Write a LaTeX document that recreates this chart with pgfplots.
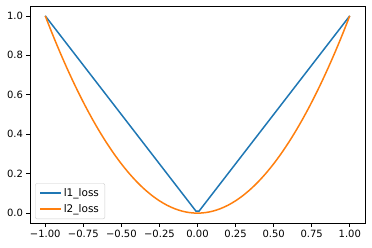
\documentclass[border=0pt]{standalone}
\usepackage{fontspec}
\setmainfont{DejaVu Sans}
\usepackage{pgfplots}
\pgfplotsset{compat=1.18}
\definecolor{c0}{HTML}{1F77B4}
\definecolor{c1}{HTML}{FF7F0E}
\begin{document}
\fontsize{10bp}{12bp}\selectfont
\begin{tikzpicture}
\begin{axis}[
  scale only axis, width=335bp, height=217bp,
  xmin=-1.1, xmax=1.1, ymin=-0.05, ymax=1.05,
  xtick={-1,-0.75,-0.5,-0.25,0,0.25,0.5,0.75,1},
  xticklabels={−1.00,−0.75,−0.50,−0.25,0.00,0.25,0.50,0.75,1.00},
  ytick={0,0.2,0.4,0.6,0.8,1},
  yticklabels={0.0,0.2,0.4,0.6,0.8,1.0},
  tick align=outside, tick pos=left,
  major tick length=3.5bp,
  every tick/.style={black, line width=0.6bp},
  axis line style={line width=0.6bp},
  ticklabel style={font=\fontsize{10bp}{12bp}\selectfont},
  legend style={at={(axis description cs:0.015,0.018)}, anchor=south west,
    draw=black!20, rounded corners=2bp, font=\fontsize{10.5bp}{12bp}\selectfont,
    row sep=2.5bp, inner xsep=4bp, inner ysep=3bp},
  legend cell align=left,
  legend image code/.code={\draw[#1, sharp plot, line width=1.6bp] (0bp,0bp) -- (21bp,0bp);},
]
\addplot[c0, line width=1.5bp] coordinates {(-1,1) (-0.0101,0.0101) (0.0101,0.0101) (1,1)};
\addlegendentry{l1\_loss}
\addplot[c1, line width=1.5bp, smooth] coordinates {
(-1.00,1.0000) (-0.95,0.9025) (-0.90,0.8100) (-0.85,0.7225) (-0.80,0.6400)
(-0.75,0.5625) (-0.70,0.4900) (-0.65,0.4225) (-0.60,0.3600) (-0.55,0.3025)
(-0.50,0.2500) (-0.45,0.2025) (-0.40,0.1600) (-0.35,0.1225) (-0.30,0.0900)
(-0.25,0.0625) (-0.20,0.0400) (-0.15,0.0225) (-0.10,0.0100) (-0.05,0.0025)
(0.00,0.0000)
(0.05,0.0025) (0.10,0.0100) (0.15,0.0225) (0.20,0.0400) (0.25,0.0625)
(0.30,0.0900) (0.35,0.1225) (0.40,0.1600) (0.45,0.2025) (0.50,0.2500)
(0.55,0.3025) (0.60,0.3600) (0.65,0.4225) (0.70,0.4900) (0.75,0.5625)
(0.80,0.6400) (0.85,0.7225) (0.90,0.8100) (0.95,0.9025) (1.00,1.0000)};
\addlegendentry{l2\_loss}
\end{axis}
\path (current axis.south west) ++(-30bp,-25bp) coordinate (bl);
\path (current axis.north east) ++(7bp,6bp) coordinate (tr);
\useasboundingbox (bl) rectangle (tr);
\end{tikzpicture}
\end{document}
